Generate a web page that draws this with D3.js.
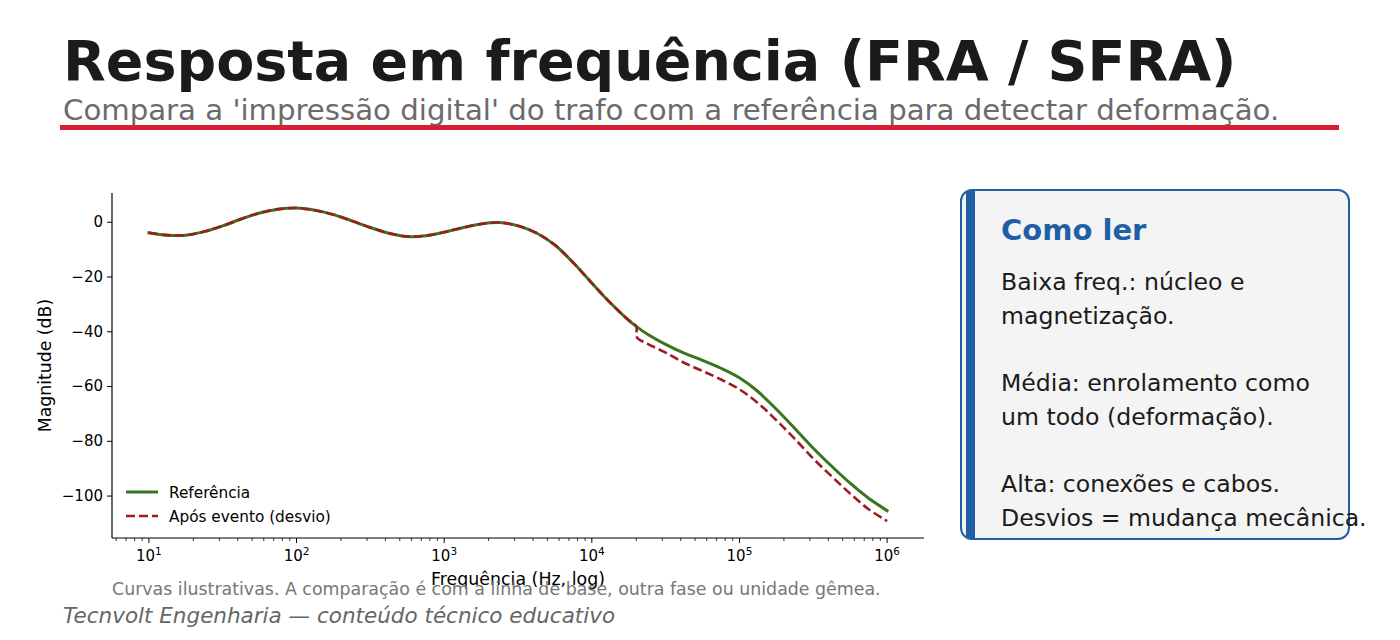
<!DOCTYPE html>
<html><head><meta charset="utf-8">
<script src="https://cdn.jsdelivr.net/npm/d3@7"></script>
<style>
html,body{margin:0;padding:0;background:#fff;}
svg{display:block;font-family:"DejaVu Sans",sans-serif;}
</style></head>
<body>
<svg id="c" width="1400" height="640"></svg>
<script>
// ---- data ----
const freqRef = [10,13.3,17.8,23.7,31.6,42.2,56.2,75,100,133,178,237,316,422,562,750,1000,1334,1778,2371,3162,4217,5623,7499,10000,13335,17783,20000,23714,31623,42170,56234,74989,100000,133352,177828,237137,316228,421697,562341,749894,1000000];
const magRef  = [-4.0,-4.9,-4.9,-3.6,-1.5,1.0,3.2,4.6,5.0,4.2,2.6,0.3,-2.1,-4.2,-5.4,-5.1,-3.8,-2.2,-0.8,-0.3,-1.5,-4.1,-8.5,-15.0,-22.4,-29.6,-36.0,-38.2,-41.0,-44.8,-48.0,-50.6,-53.5,-57.0,-62.0,-68.5,-75.5,-82.7,-89.3,-95.5,-101.0,-105.5];
const freqDev = [10,13.3,17.8,23.7,31.6,42.2,56.2,75,100,133,178,237,316,422,562,750,1000,1334,1778,2371,3162,4217,5623,7499,10000,13335,17783,20000,20200,23714,31623,42170,56234,74989,100000,133352,177828,237137,316228,421697,562341,749894,1000000];
const magDev  = [-4.0,-4.9,-4.9,-3.6,-1.5,1.0,3.2,4.6,5.0,4.2,2.6,0.3,-2.1,-4.2,-5.4,-5.1,-3.8,-2.2,-0.8,-0.3,-1.5,-4.1,-8.5,-15.0,-22.4,-29.6,-36.0,-38.2,-42.2,-44.5,-47.8,-51.5,-54.5,-57.6,-61.2,-66.2,-72.5,-79.3,-86.5,-93.0,-99.3,-105.0,-109.3];
const yTicks = [0,-20,-40,-60,-80,-100];
const xTickExps = [1,2,3,4,5,6];
const seriesNames = ["Referência","Após evento (desvio)"];
const boxLines = ["Baixa freq.: núcleo e","magnetização.","","Média: enrolamento como","um todo (deformação).","","Alta: conexões e cabos.","Desvios = mudança mecânica."];

const svg = d3.select("#c");
const GREEN = "#38761d", RED = "#9e1b1f";

// header
svg.append("text").attr("x",63).attr("y",80).attr("font-size",55.5).attr("font-weight","bold")
  .attr("fill","#1b1b1b").text("Resposta em frequência (FRA / SFRA)");
svg.append("text").attr("x",63).attr("y",120).attr("font-size",29.2).attr("fill","#6b6b6b")
  .text("Compara a 'impressão digital' do trafo com a referência para detectar deformação.");
svg.append("rect").attr("x",60).attr("y",125).attr("width",1279).attr("height",5).attr("fill","#d81e2f");

// chart
const L=112,R=924,T=193,B=538;
const x = d3.scaleLog().domain([Math.pow(10,0.75),Math.pow(10,6.25)]).range([L,R]);
const y = d3.scaleLinear().domain([-115.5,10.5]).range([B,T]);
const g = svg.append("g");

// y axis
const yAx = g.append("g").attr("transform",`translate(${L},0)`)
  .call(d3.axisLeft(y).tickValues(yTicks).tickSize(5).tickPadding(4).tickFormat(d=>d<0?"\u2212"+Math.abs(d):d));
yAx.select(".domain").attr("d",`M0,${T}V${B}`).attr("stroke","#000").attr("stroke-width",1.2);
yAx.selectAll("text").attr("font-size",15).attr("font-family","DejaVu Sans").attr("fill","#000");
// x axis
const minor=[];
for(let e=0;e<=6;e++){for(let m=2;m<=9;m++){const v=m*Math.pow(10,e); if(v>x.domain()[0]&&v<x.domain()[1]) minor.push(v);}}
const xAx = g.append("g").attr("transform",`translate(0,${B})`);
xAx.append("path").attr("d",`M${L},0H${R}`).attr("stroke","#000").attr("stroke-width",1.2);
xAx.selectAll(".mn").data(minor).enter().append("line").attr("x1",d=>x(d)).attr("x2",d=>x(d)).attr("y1",0).attr("y2",3).attr("stroke","#000").attr("stroke-width",0.8);
const maj = xAx.selectAll(".mj").data(xTickExps).enter().append("g").attr("transform",d=>`translate(${x(Math.pow(10,d))},0)`);
maj.append("line").attr("y2",5).attr("stroke","#000").attr("stroke-width",1);
const mt = maj.append("text").attr("y",23).attr("text-anchor","middle").attr("font-size",15).attr("fill","#000");
mt.append("tspan").text("10");
mt.append("tspan").attr("dy",-6).attr("font-size",10.5).text(d=>d);

g.append("text").attr("transform",`translate(51,${(T+B)/2}) rotate(-90)`).attr("text-anchor","middle")
  .attr("font-size",17.3).attr("fill","#000").text("Magnitude (dB)");
g.append("text").attr("x",(L+R)/2).attr("y",585).attr("text-anchor","middle").attr("font-size",17.4).attr("fill","#000").text("Frequência (Hz, log)");

const line = d3.line().x(d=>x(d[0])).y(d=>y(d[1])).curve(d3.curveCatmullRom.alpha(0.5));
g.append("path").datum(freqRef.map((f,i)=>[f,magRef[i]])).attr("d",line).attr("fill","none")
  .attr("stroke",GREEN).attr("stroke-width",3).attr("stroke-linecap","square");
g.append("path").datum(freqDev.map((f,i)=>[f,magDev[i]])).attr("d",line).attr("fill","none")
  .attr("stroke",RED).attr("stroke-width",2.6).attr("stroke-dasharray","9,4");

// legend
const lg = g.append("g");
[[GREEN,null,3],[RED,"9,4",2.6]].forEach((s,i)=>{
  const yy = 492 + i*24;
  lg.append("line").attr("x1",126).attr("x2",158).attr("y1",yy).attr("y2",yy).attr("stroke",s[0]).attr("stroke-width",s[2]).attr("stroke-dasharray",s[1]);
  lg.append("text").attr("x",169).attr("y",yy+5.5).attr("font-size",15.3).attr("fill","#000").text(seriesNames[i]);
});

// captions
svg.append("text").attr("x",112).attr("y",595).attr("font-size",17.4).attr("fill","#777").text("Curvas ilustrativas. A comparação é com a linha de base, outra fase ou unidade gêmea.");
svg.append("text").attr("x",63).attr("y",623).attr("font-size",21.5).attr("font-style","italic").attr("fill","#666").text("Tecnvolt Engenharia — conteúdo técnico educativo");

// info box
const bx = svg.append("g");
bx.append("rect").attr("x",961).attr("y",190).attr("width",388).attr("height",349).attr("rx",11).attr("fill","#f4f4f4").attr("stroke","#1f5fa6").attr("stroke-width",2);
bx.append("rect").attr("x",966).attr("y",191).attr("width",9).attr("height",347).attr("fill","#1f5fa6");
bx.append("text").attr("x",1001).attr("y",240).attr("font-size",29).attr("font-weight","bold").attr("fill","#1f5fa6").text("Como ler");
boxLines.forEach((t,i)=>{
  if(!t) return;
  bx.append("text").attr("x",1001).attr("y",290+i*33.7).attr("font-size",23.6).attr("fill","#1b1b1b").text(t);
});
</script>
</body></html>
